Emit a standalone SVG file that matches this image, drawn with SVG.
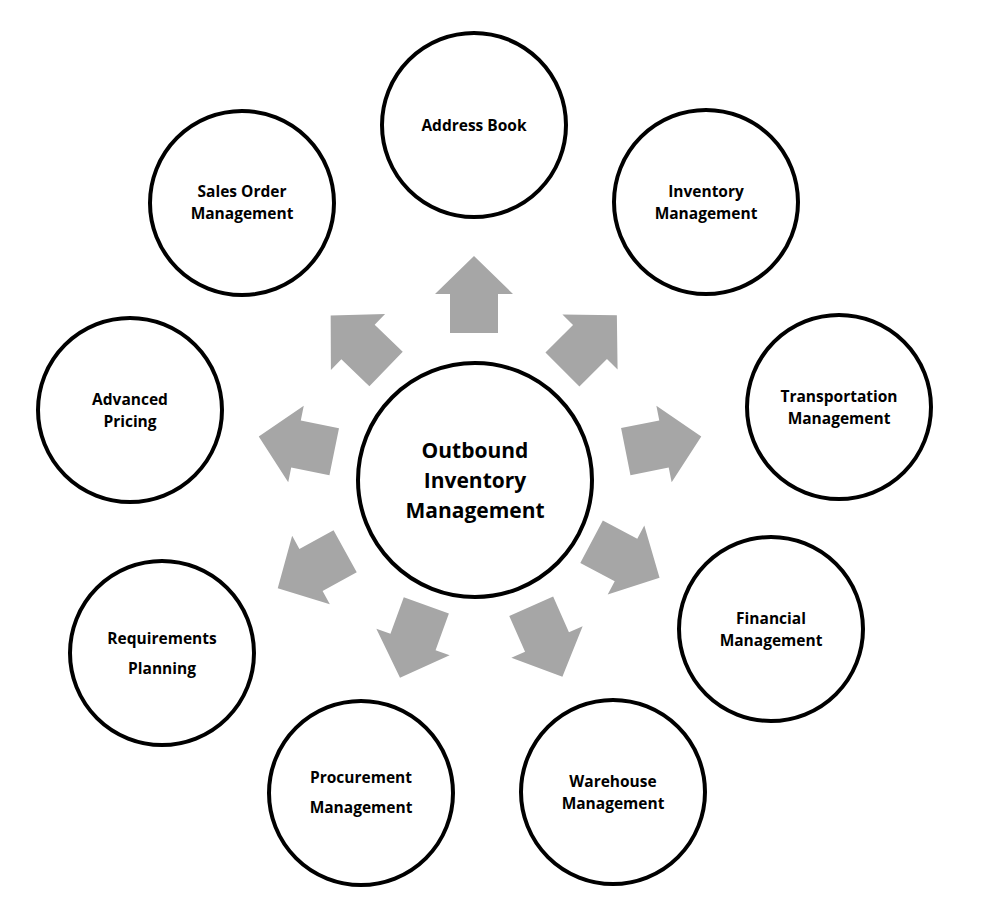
<svg xmlns="http://www.w3.org/2000/svg" width="981" height="897" viewBox="0 0 981 897">
<style>
.n{fill:#fff;stroke:#000;stroke-width:4}
.t{font-family:"Open Sans","Liberation Sans",sans-serif;font-weight:bold;font-size:15.5px;text-anchor:middle;fill:#000}
.c{font-size:21px}
.a{fill:#a6a6a6}
</style>
<defs><path id="arr" d="M0,-38 L39,0 L24,0 L24,39 L-24,39 L-24,0 L-39,0 Z"/></defs>
<g id="connectors">
<use href="#arr" class="a" transform="translate(474,294)"/>
<use href="#arr" class="a" transform="translate(590,342) rotate(45)"/>
<use href="#arr" class="a" transform="translate(664,444) rotate(78.7)"/>
<use href="#arr" class="a" transform="translate(626,560) rotate(118)"/>
<use href="#arr" class="a" transform="translate(547,642) rotate(156.1)"/>
<use href="#arr" class="a" transform="translate(413,642) rotate(200)"/>
<use href="#arr" class="a" transform="translate(311,570) rotate(-118.9)"/>
<use href="#arr" class="a" transform="translate(296,444) rotate(-78.5)"/>
<use href="#arr" class="a" transform="translate(358,342) rotate(-46)"/>
</g>
<g id="center"><circle class="n" cx="475" cy="480" r="117"/>
<text class="t c" x="475" y="458">Outbound</text><text class="t c" x="475" y="488">Inventory</text><text class="t c" x="475" y="518">Management</text></g>
<g id="address"><circle class="n" cx="474" cy="125" r="92"/><text class="t" x="474" y="131">Address Book</text></g>
<g id="inventory"><circle class="n" cx="706" cy="202" r="92"/><text class="t" x="706" y="197">Inventory</text><text class="t" x="706" y="219">Management</text></g>
<g id="transport"><circle class="n" cx="839" cy="407" r="92"/><text class="t" x="839" y="402">Transportation</text><text class="t" x="839" y="424">Management</text></g>
<g id="financial"><circle class="n" cx="771" cy="629" r="92"/><text class="t" x="771" y="624">Financial</text><text class="t" x="771" y="646">Management</text></g>
<g id="warehouse"><circle class="n" cx="613" cy="792" r="92"/><text class="t" x="613" y="787">Warehouse</text><text class="t" x="613" y="809">Management</text></g>
<g id="procurement"><circle class="n" cx="361" cy="793" r="92"/><text class="t" x="361" y="783">Procurement</text><text class="t" x="361" y="813">Management</text></g>
<g id="requirements"><circle class="n" cx="162" cy="653" r="92"/><text class="t" x="162" y="644">Requirements</text><text class="t" x="162" y="674">Planning</text></g>
<g id="pricing"><circle class="n" cx="130" cy="410" r="92"/><text class="t" x="130" y="405">Advanced</text><text class="t" x="130" y="427">Pricing</text></g>
<g id="sales"><circle class="n" cx="242" cy="203" r="92"/><text class="t" x="242" y="197">Sales Order</text><text class="t" x="242" y="219">Management</text></g>
</svg>
